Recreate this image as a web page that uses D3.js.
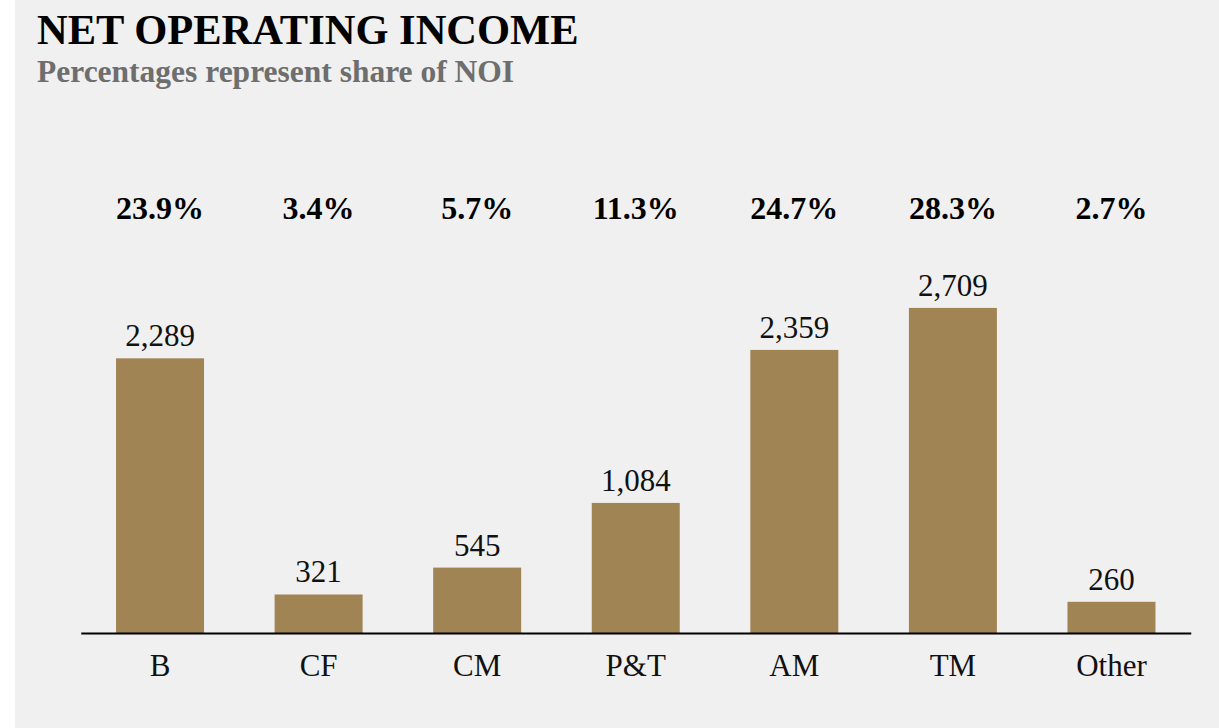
<!DOCTYPE html>
<html>
<head>
<meta charset="utf-8">
<script src="https://cdn.jsdelivr.net/npm/d3@7"></script>
<style>
  body { margin: 0; background: #fff; }
  svg { display: block; }
  text { font-family: "Liberation Serif", "Times New Roman", serif; }
</style>
</head>
<body>
<script>
// chart data
var categories = ["B", "CF", "CM", "P&T", "AM", "TM", "Other"];
var noiValues = [2289, 321, 545, 1084, 2359, 2709, 260];
var noiShares = ["23.9%", "3.4%", "5.7%", "11.3%", "24.7%", "28.3%", "2.7%"];

var width = 1219, height = 728;
var baseY = 633;

var svg = d3.select("body").append("svg")
    .attr("width", width)
    .attr("height", height);

// grey panel (leaves a white strip on the left)
svg.append("rect")
    .attr("x", 15).attr("y", 0)
    .attr("width", width - 15).attr("height", height)
    .attr("fill", "#f0f0f0");

svg.append("text")
    .attr("x", 37).attr("y", 44)
    .attr("font-size", 42.5)
    .attr("font-weight", "bold")
    .attr("fill", "#000")
    .text("NET OPERATING INCOME");

svg.append("text")
    .attr("x", 37).attr("y", 82)
    .attr("font-size", 31.5)
    .attr("font-weight", "bold")
    .attr("fill", "#6e6e6e")
    .text("Percentages represent share of NOI");

var x = d3.scaleBand()
    .domain(categories)
    .range([80.75, 1190.75])
    .paddingInner(0.445)
    .paddingOuter(0.2225);

var y = d3.scaleLinear()
    .domain([0, 3000])
    .range([baseY, baseY - 360]);

var rows = categories.map(function(c, i){
    return {cat: c, val: noiValues[i], share: noiShares[i]};
});

svg.selectAll(".bar")
    .data(rows)
    .enter().append("rect")
    .attr("class", "bar")
    .attr("x", function(d){ return x(d.cat); })
    .attr("y", function(d){ return y(d.val); })
    .attr("width", x.bandwidth())
    .attr("height", function(d){ return baseY - y(d.val); })
    .attr("fill", "#a18453");

// value labels above bars
svg.selectAll(".val")
    .data(rows)
    .enter().append("text")
    .attr("class", "val")
    .attr("x", function(d){ return x(d.cat) + x.bandwidth()/2; })
    .attr("y", function(d){ return y(d.val) - 12; })
    .attr("text-anchor", "middle")
    .attr("font-size", 31)
    .attr("fill", "#111")
    .text(function(d){ return d3.format(",")(d.val); });

// share row
svg.selectAll(".share")
    .data(rows)
    .enter().append("text")
    .attr("class", "share")
    .attr("x", function(d){ return x(d.cat) + x.bandwidth()/2; })
    .attr("y", 219)
    .attr("text-anchor", "middle")
    .attr("font-size", 32)
    .attr("font-weight", "bold")
    .attr("fill", "#000")
    .text(function(d){ return d.share; });

var xAxis = svg.append("g")
    .attr("transform", "translate(0," + baseY + ")")
    .call(d3.axisBottom(x).tickSize(0).tickPadding(21));

xAxis.select(".domain")
    .attr("stroke", "#000")
    .attr("stroke-width", 2);

xAxis.selectAll(".tick text")
    .attr("font-size", 31)
    .attr("fill", "#111")
    .attr("dy", "0.71em")
    .style("font-family", "'Liberation Serif', 'Times New Roman', serif");
</script>
</body>
</html>
